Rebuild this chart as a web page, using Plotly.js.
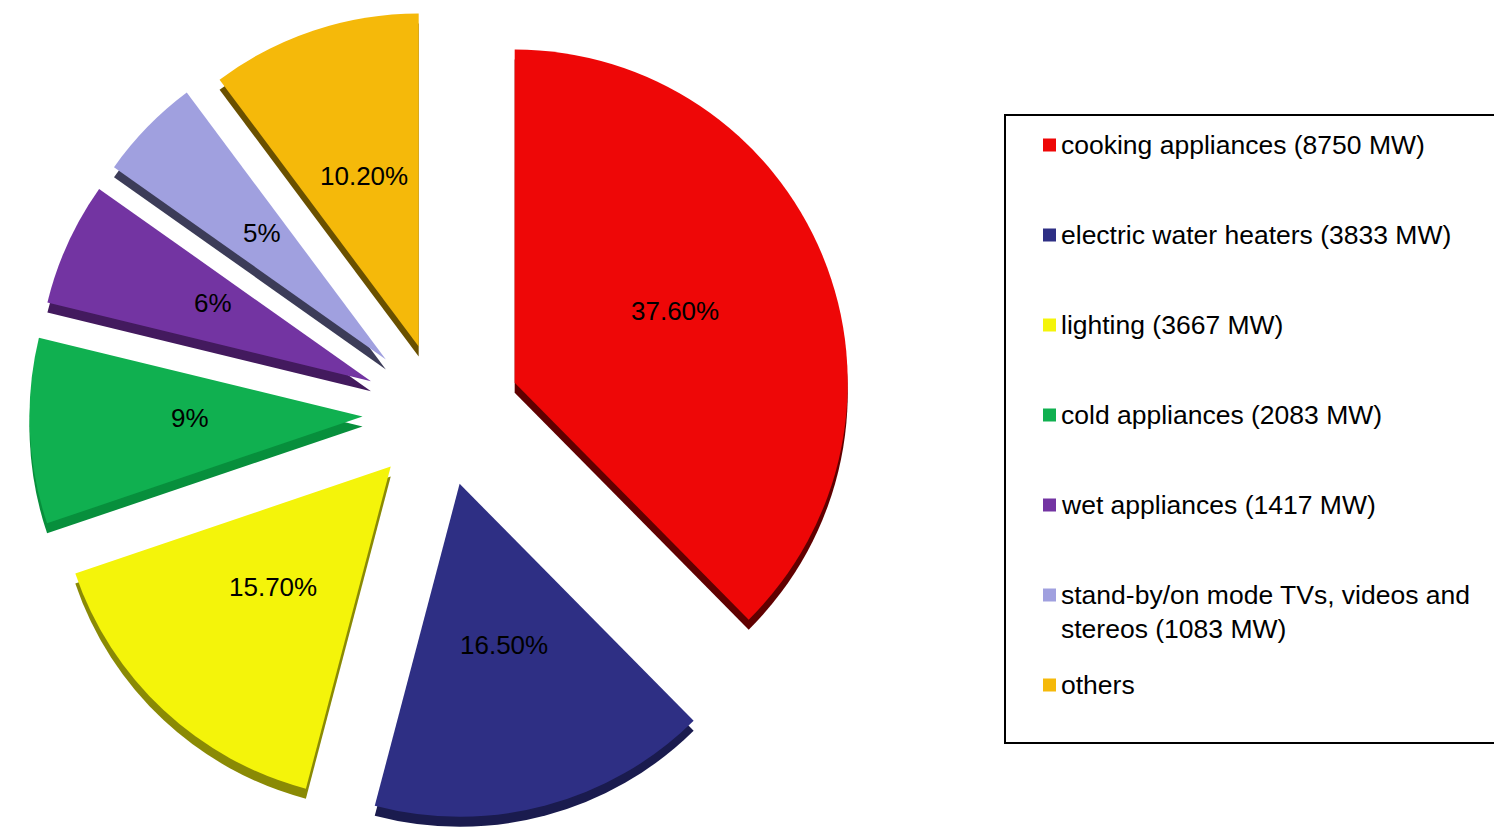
<!DOCTYPE html>
<html>
<head>
<meta charset="utf-8">
<script src="https://cdn.plot.ly/plotly-3.0.1.min.js"></script>
<style>html,body{margin:0;padding:0;background:#fff;}#chart{width:1494px;height:836px;}</style>
</head>
<body>
<div id="chart"></div>
<script>
// Data
var categories = [
  "cooking appliances (8750 MW)",
  "electric water heaters (3833 MW)",
  "lighting (3667 MW)",
  "cold appliances (2083 MW)",
  "wet appliances (1417 MW)",
  "stand-by/on mode TVs, videos and<br>stereos (1083 MW)",
  "others"
];
var shares = [37.6, 16.5, 15.7, 9, 6, 5, 10.2];
var shareLabels = ["37.60%", "16.50%", "15.70%", "9%", "6%", "5%", "10.20%"];

// Styling
var sliceColors = ["#EE0707", "#2E2F84", "#F4F40A", "#10B050", "#7334A2", "#A0A0DF", "#F5B90A"];
var depthColors = ["#600000", "#1A1B4E", "#8A8A05", "#078F3C", "#431A5E", "#3C3C58", "#6A5000"];
var pulls = [0.24, 0.22, 0.22, 0.235, 0.23, 0.23, 0.21];

var FONT = "Liberation Sans, Arial, sans-serif";
var W = 1494, H = 836, depthPx = 10;
var domX = [0, 0.59];

var shadow = {
  type: "pie",
  labels: categories,
  values: shares,
  sort: false,
  direction: "clockwise",
  rotation: 0,
  pull: pulls,
  marker: { colors: depthColors, line: { width: 0 } },
  textinfo: "none",
  hoverinfo: "skip",
  showlegend: false,
  domain: { x: domX, y: [0, 1 - depthPx / H] }
};

var main = {
  type: "pie",
  labels: categories,
  values: shares,
  text: shareLabels,
  sort: false,
  direction: "clockwise",
  rotation: 0,
  pull: pulls,
  marker: { colors: sliceColors, line: { width: 0 } },
  textinfo: "none",
  hoverinfo: "label+percent",
  showlegend: false,
  domain: { x: domX, y: [depthPx / H, 1] }
};

// Legend box (drawn as shapes + annotations)
var legLeft = 1005, legTop = 115, legBottom = 743, legRow0 = 145, legStep = 90;
var legFont = 26.5, lineH = legFont * 1.3;
var shapes = [{
  type: "rect", xref: "paper", yref: "paper",
  x0: legLeft / W, x1: 1.01, y0: 1 - legBottom / H, y1: 1 - legTop / H,
  line: { color: "#000", width: 2 }, fillcolor: "rgba(0,0,0,0)"
}];
var annotations = [];
categories.forEach(function (c, i) {
  var yc = legRow0 + legStep * i;
  var nLines = c.split("<br>").length;
  shapes.push({
    type: "rect", xref: "paper", yref: "paper",
    x0: 1043 / W, x1: 1056 / W, y0: 1 - (yc + 6.5) / H, y1: 1 - (yc - 6.5) / H,
    line: { width: 0 }, fillcolor: sliceColors[i]
  });
  annotations.push({
    xref: "paper", yref: "paper",
    x: 1059 / W, y: 1 - (yc + (nLines - 1) * lineH / 2) / H,
    xanchor: "left", yanchor: "middle", align: "left",
    text: c, showarrow: false,
    font: { family: FONT, size: legFont, color: "#000" }
  });
});

var layout = {
  width: W,
  height: H,
  margin: { l: 0, r: 0, t: 0, b: 0 },
  paper_bgcolor: "#fff",
  font: { family: FONT, size: 26, color: "#000" },
  showlegend: false,
  shapes: shapes,
  annotations: annotations
};

Plotly.newPlot("chart", [shadow, main], layout, { displayModeBar: false, staticPlot: true }).then(function (gd) {
  // place the percentage labels halfway out along each slice, using the pie's own geometry
  var cd = gd.calcdata[1];
  var cx = cd[0].cx, cy = cd[0].cy, r = cd[0].r;
  var total = shares.reduce(function (a, b) { return a + b; }, 0);
  var cum = 0;
  var labelAnns = cd.map(function (pt, k) {
    var i = (pt.i !== undefined) ? pt.i : k;
    var mid;
    var frac = shares[i] / total;
    var ang = (cum + frac / 2) * 2 * Math.PI; cum += frac;
    if (pt.pxmid) { mid = pt.pxmid; } else { mid = [r * Math.sin(ang), -r * Math.cos(ang)]; }
    var f = pulls[i] + 0.52;
    var px = cx + mid[0] * f, py = cy + mid[1] * f - 6;
    return {
      xref: "paper", yref: "paper", x: px / W, y: 1 - py / H,
      xanchor: "center", yanchor: "middle", showarrow: false,
      text: shareLabels[i], font: { family: FONT, size: 26, color: "#000" }
    };
  });
  return Plotly.relayout(gd, { annotations: annotations.concat(labelAnns) });
});
</script>
</body>
</html>
